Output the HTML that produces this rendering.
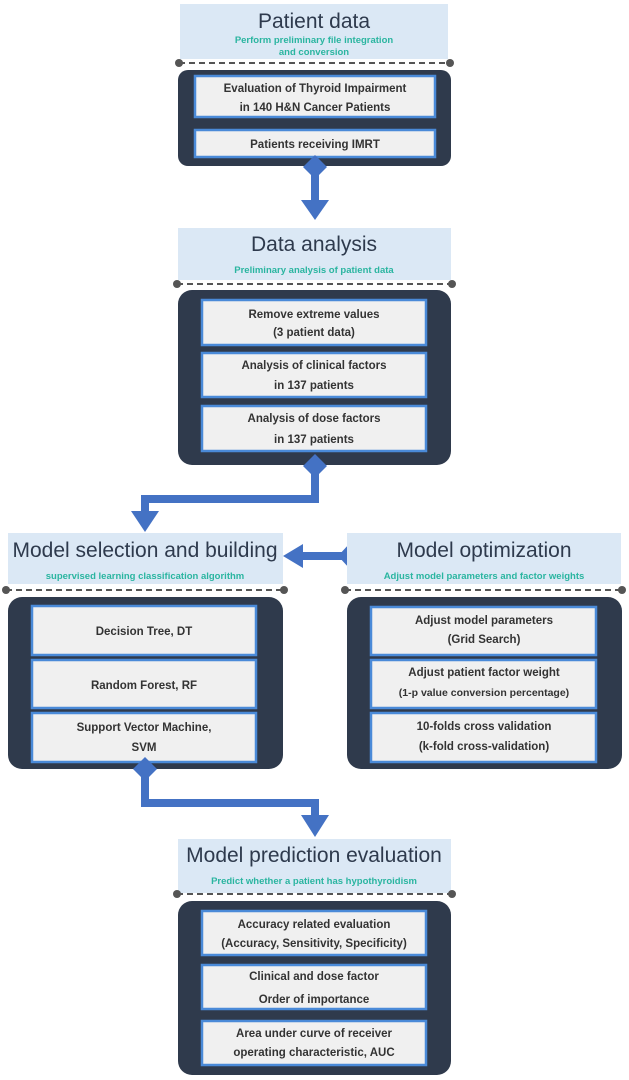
<!DOCTYPE html>
<html><head><meta charset="utf-8"><style>
html,body{margin:0;padding:0;background:#fff;}
svg{display:block;}
text{font-family:"Liberation Sans",sans-serif;}
.t{font-size:21px;fill:#2e3a4d;text-anchor:middle;}
.s{font-size:9.5px;fill:#2ab5a0;font-weight:bold;text-anchor:middle;}
.b{font-size:11.5px;fill:#333;font-weight:bold;text-anchor:middle;}
.h{fill:#dbe8f5;}
.d{fill:#2f3a4c;}
.i{fill:#f0f0f0;stroke:#4a8ad8;stroke-width:2.5;}
.dash{stroke:#555;stroke-width:2;stroke-dasharray:6,4;}
.c{fill:#4472c4;}
</style></head><body>
<svg width="629" height="1080" viewBox="0 0 629 1080">
<defs>
<marker id="dm" viewBox="0 0 10 10" refX="5" refY="5" markerWidth="5" markerHeight="5"><circle cx="5" cy="5" r="4" fill="#555"/></marker>
</defs>
<!-- Patient data -->
<rect class="h" x="180" y="4" width="268" height="55"/>
<text class="t" x="314" y="28">Patient data</text>
<text class="s" x="314" y="43">Perform preliminary file integration</text>
<text class="s" x="314" y="55">and conversion</text>
<line class="dash" x1="179" y1="63" x2="450" y2="63" marker-start="url(#dm)" marker-end="url(#dm)"/>
<rect class="d" x="178" y="70" width="273" height="96" rx="10"/>
<rect class="i" x="195" y="76" width="240" height="41"/>
<text class="b" x="315" y="92">Evaluation of Thyroid Impairment</text>
<text class="b" x="315" y="111">in 140 H&amp;N Cancer Patients</text>
<rect class="i" x="195" y="130" width="240" height="27"/>
<text class="b" x="315" y="148">Patients receiving  IMRT</text>
<!-- arrow 1 -->
<polygon class="c" points="315,155 327,167 315,179 303,167"/>
<rect class="c" x="311" y="167" width="8" height="38"/>
<polygon class="c" points="301,200 329,200 315,220"/>

<!-- Data analysis -->
<rect class="h" x="178" y="228" width="273" height="52"/>
<text class="t" x="314" y="251">Data analysis</text>
<text class="s" x="314" y="273">Preliminary analysis of patient data</text>
<line class="dash" x1="177" y1="284" x2="452" y2="284" marker-start="url(#dm)" marker-end="url(#dm)"/>
<rect class="d" x="178" y="290" width="273" height="175" rx="14"/>
<rect class="i" x="202" y="300" width="224" height="45"/>
<text class="b" x="314" y="318">Remove extreme values</text>
<text class="b" x="314" y="336">(3 patient data)</text>
<rect class="i" x="202" y="353" width="224" height="44"/>
<text class="b" x="314" y="369">Analysis of clinical factors</text>
<text class="b" x="314" y="389">in 137 patients</text>
<rect class="i" x="202" y="406" width="224" height="45"/>
<text class="b" x="314" y="422">Analysis of dose factors</text>
<text class="b" x="314" y="443">in 137 patients</text>
<!-- connector 2 -->
<polygon class="c" points="315,454 327,466 315,478 303,466"/>
<rect class="c" x="311" y="466" width="8" height="37"/>
<rect class="c" x="141" y="495" width="178" height="8"/>
<rect class="c" x="141" y="495" width="8" height="20"/>
<polygon class="c" points="131,511 159,511 145,532"/>

<!-- Model selection -->
<rect class="h" x="8" y="533" width="275" height="51"/>
<text class="t" x="145" y="557">Model selection and building</text>
<text class="s" x="145" y="579">supervised  learning  classification  algorithm</text>
<line class="dash" x1="6" y1="590" x2="284" y2="590" marker-start="url(#dm)" marker-end="url(#dm)"/>
<rect class="d" x="8" y="597" width="275" height="172" rx="14"/>
<rect class="i" x="32" y="606" width="224" height="49"/>
<text class="b" x="144" y="635">Decision Tree, DT</text>
<rect class="i" x="32" y="660" width="224" height="48"/>
<text class="b" x="144" y="689">Random Forest, RF</text>
<rect class="i" x="32" y="713" width="224" height="49"/>
<text class="b" x="144" y="731">Support Vector Machine,</text>
<text class="b" x="144" y="751">SVM</text>

<!-- double arrow -->
<polygon class="c" points="283,556 303,544 303,568"/>
<rect class="c" x="300" y="552" width="44" height="8"/>
<polygon class="c" points="350,543 362,556 350,569 338,556"/>

<!-- Model optimization -->
<rect class="h" x="347" y="533" width="274" height="51"/>
<text class="t" x="484" y="557">Model optimization</text>
<text class="s" x="484" y="579">Adjust model parameters and factor weights</text>
<line class="dash" x1="345" y1="590" x2="622" y2="590" marker-start="url(#dm)" marker-end="url(#dm)"/>
<rect class="d" x="347" y="597" width="275" height="172" rx="14"/>
<rect class="i" x="371" y="607" width="225" height="48"/>
<text class="b" x="484" y="624">Adjust model parameters</text>
<text class="b" x="484" y="643">(Grid Search)</text>
<rect class="i" x="371" y="660" width="225" height="48"/>
<text class="b" x="484" y="676">Adjust patient factor weight</text>
<text class="b" x="484" y="696" style="font-size:10.5px">(1-p value conversion percentage)</text>
<rect class="i" x="371" y="713" width="225" height="49"/>
<text class="b" x="484" y="730">10-folds cross validation</text>
<text class="b" x="484" y="750">(k-fold cross-validation)</text>

<!-- connector 3 -->
<polygon class="c" points="145,757 157,769 145,781 133,769"/>
<rect class="c" x="141" y="769" width="8" height="38"/>
<rect class="c" x="141" y="799" width="178" height="8"/>
<rect class="c" x="311" y="799" width="8" height="18"/>
<polygon class="c" points="301,815 329,815 315,837"/>

<!-- Model prediction -->
<rect class="h" x="178" y="839" width="273" height="54"/>
<text class="t" x="314" y="862">Model prediction evaluation</text>
<text class="s" x="314" y="884">Predict whether a patient has hypothyroidism</text>
<line class="dash" x1="177" y1="894" x2="452" y2="894" marker-start="url(#dm)" marker-end="url(#dm)"/>
<rect class="d" x="178" y="901" width="273" height="174" rx="14"/>
<rect class="i" x="202" y="911" width="224" height="44"/>
<text class="b" x="314" y="928">Accuracy related evaluation</text>
<text class="b" x="314" y="947">(Accuracy, Sensitivity, Specificity)</text>
<rect class="i" x="202" y="965" width="224" height="44"/>
<text class="b" x="314" y="980">Clinical and dose factor</text>
<text class="b" x="314" y="1003">Order of importance</text>
<rect class="i" x="202" y="1021" width="224" height="44"/>
<text class="b" x="314" y="1037">Area under curve  of receiver</text>
<text class="b" x="314" y="1056">operating characteristic, AUC</text>
</svg>
</body></html>
